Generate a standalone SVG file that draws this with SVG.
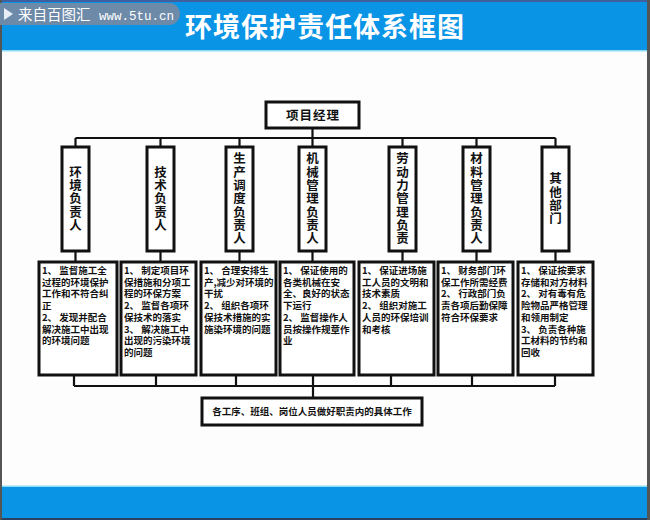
<svg xmlns="http://www.w3.org/2000/svg" width="650" height="520" viewBox="0 0 650 520">
<style>
.box{fill:#fff;stroke:#111;stroke-width:3}
.ln{fill:none;stroke:#111;stroke-width:2.2}
.col{font-family:"Noto Sans CJK SC","Noto Sans",sans-serif;font-size:12.5px;font-weight:bold;fill:#111;text-anchor:middle;writing-mode:vertical-rl;letter-spacing:0.8px}
.dt{font-family:"Noto Sans CJK SC","Noto Sans",sans-serif;font-size:9.5px;font-weight:bold;fill:#111}
.hd{font-family:"Noto Sans CJK SC","Noto Sans",sans-serif;font-size:12.5px;font-weight:bold;fill:#111;text-anchor:middle;letter-spacing:1px}
</style>
<rect x="0" y="0" width="650" height="520" fill="#fdfdfd"/>
<rect x="0" y="0" width="650" height="51" fill="#0a94e6"/>
<rect x="0" y="0" width="650" height="2" fill="#3f5f9f"/>
<rect x="0" y="50" width="650" height="1.5" fill="#8fdcf5"/>
<rect x="0" y="486" width="650" height="34" fill="#0a94e6"/>
<rect x="0" y="485.5" width="650" height="1.5" fill="#8fdcf5"/>
<rect x="0" y="518" width="650" height="2" fill="#2a4060"/>
<rect x="0" y="0" width="2" height="520" fill="#555"/>
<rect x="647" y="0" width="3" height="520" fill="#555"/>
<g id="watermark">
<path d="M0 3 H169 A11 11 0 0 1 169 25 H0 Z" fill="#6d8aa8"/>
<path d="M4 8 L13 14 L4 20 Z" fill="#e8eef5"/>
<text x="18" y="20" font-family="Noto Sans CJK SC,sans-serif" font-size="14.5" fill="#fff">来自百图汇</text>
<text x="99" y="19.5" font-family="Liberation Mono,monospace" font-size="12.5" fill="#fff">www.5tu.cn</text>
</g>
<text id="title" x="325" y="37" text-anchor="middle" font-family="Noto Sans CJK SC,sans-serif" font-size="27" font-weight="bold" letter-spacing="1" fill="#fff">环境保护责任体系框图</text>

<g id="connectors">
<path class="ln" d="M312.5 128 V138 M75.5 138 H555.5 M75.5 138 V147 M160.5 138 V147 M239.5 138 V147 M312.5 138 V147 M402.5 138 V147 M476.5 138 V147 M555.5 138 V147"/>
<path class="ln" d="M75.5 251 V262 M160.5 251 V262 M239.5 251 V262 M312.5 251 V262 M402.5 251 V262 M476.5 251 V262 M555.5 251 V262"/>
<path class="ln" d="M74 375 V386 M156 375 V386 M236 375 V386 M313 375 V386 M391 375 V386 M472 375 V386 M555 375 V386 M74 386 H555 M313 386 V398"/>
</g>

<g id="manager">
<rect class="box" x="266" y="102" width="93" height="26"/>
<text class="hd" x="313" y="119.5">项目经理</text>
</g>

<g id="col1">
<rect class="box" x="62" y="147" width="27" height="104"/>
<text class="col" x="75.5" y="199">环境负责人</text>
</g>
<g id="col2">
<rect class="box" x="147" y="147" width="27" height="104"/>
<text class="col" x="160.5" y="199">技术负责人</text>
</g>
<g id="col3">
<rect class="box" x="226" y="147" width="27" height="104"/>
<text class="col" x="239.5" y="199">生产调度负责人</text>
</g>
<g id="col4">
<rect class="box" x="299" y="147" width="27" height="104"/>
<text class="col" x="312.5" y="199">机械管理负责人</text>
</g>
<g id="col5">
<rect class="box" x="389" y="147" width="27" height="104"/>
<text class="col" x="402.5" y="199">劳动力管理负责</text>
</g>
<g id="col6">
<rect class="box" x="463" y="147" width="27" height="104"/>
<text class="col" x="476.5" y="199">材料管理负责人</text>
</g>
<g id="col7">
<rect class="box" x="542" y="147" width="27" height="104"/>
<text class="col" x="555.5" y="199">其他部门</text>
</g>

<g id="duty1">
<rect class="box" x="39" y="262" width="78" height="113"/>
<text class="dt"><tspan x="42" y="274">1、 监督施工全</tspan><tspan x="42" dy="11.7">过程的环境保护</tspan><tspan x="42" dy="11.7">工作和不符合纠</tspan><tspan x="42" dy="11.7">正</tspan><tspan x="42" dy="11.7">2、 发现并配合</tspan><tspan x="42" dy="11.7">解决施工中出现</tspan><tspan x="42" dy="11.7">的环境问题</tspan></text>
</g>
<g id="duty2">
<rect class="box" x="121" y="262" width="75" height="113"/>
<text class="dt"><tspan x="124" y="274">1、 制定项目环</tspan><tspan x="124" dy="11.7">保措施和分项工</tspan><tspan x="124" dy="11.7">程的环保方案</tspan><tspan x="124" dy="11.7">2、 监督各项环</tspan><tspan x="124" dy="11.7">保技术的落实</tspan><tspan x="124" dy="11.7">3、 解决施工中</tspan><tspan x="124" dy="11.7">出现的污染环境</tspan><tspan x="124" dy="11.7">的问题</tspan></text>
</g>
<g id="duty3">
<rect class="box" x="201" y="262" width="75" height="113"/>
<text class="dt"><tspan x="204" y="274">1、 合理安排生</tspan><tspan x="204" dy="11.7">产,减少对环境的</tspan><tspan x="204" dy="11.7">干扰</tspan><tspan x="204" dy="11.7">2、 组织各项环</tspan><tspan x="204" dy="11.7">保技术措施的实</tspan><tspan x="204" dy="11.7">施染环境的问题</tspan></text>
</g>
<g id="duty4">
<rect class="box" x="280" y="262" width="74" height="113"/>
<text class="dt"><tspan x="283" y="274">1、 保证使用的</tspan><tspan x="283" dy="11.7">各类机械在安</tspan><tspan x="283" dy="11.7">全、良好的状态</tspan><tspan x="283" dy="11.7">下运行</tspan><tspan x="283" dy="11.7">2、 监督操作人</tspan><tspan x="283" dy="11.7">员按操作规章作</tspan><tspan x="283" dy="11.7">业</tspan></text>
</g>
<g id="duty5">
<rect class="box" x="359" y="262" width="75" height="113"/>
<text class="dt"><tspan x="362" y="274">1、 保证进场施</tspan><tspan x="362" dy="11.7">工人员的文明和</tspan><tspan x="362" dy="11.7">技术素质</tspan><tspan x="362" dy="11.7">2、 组织对施工</tspan><tspan x="362" dy="11.7">人员的环保培训</tspan><tspan x="362" dy="11.7">和考核</tspan></text>
</g>
<g id="duty6">
<rect class="box" x="438" y="262" width="75" height="113"/>
<text class="dt"><tspan x="441" y="274">1、 财务部门环</tspan><tspan x="441" dy="11.7">保工作所需经费</tspan><tspan x="441" dy="11.7">2、 行政部门负</tspan><tspan x="441" dy="11.7">责各项后勤保障</tspan><tspan x="441" dy="11.7">符合环保要求</tspan></text>
</g>
<g id="duty7">
<rect class="box" x="518" y="262" width="75" height="113"/>
<text class="dt"><tspan x="521" y="274">1、 保证按要求</tspan><tspan x="521" dy="11.7">存储和对方材料</tspan><tspan x="521" dy="11.7">2、 对有毒有危</tspan><tspan x="521" dy="11.7">险物品严格管理</tspan><tspan x="521" dy="11.7">和领用制定</tspan><tspan x="521" dy="11.7">3、 负责各种施</tspan><tspan x="521" dy="11.7">工材料的节约和</tspan><tspan x="521" dy="11.7">回收</tspan></text>
</g>

<g id="teams">
<rect class="box" x="202" y="398" width="220" height="27"/>
<text class="dt" x="312" y="415" text-anchor="middle">各工序、班组、岗位人员做好职责内的具体工作</text>
</g>
</svg>
